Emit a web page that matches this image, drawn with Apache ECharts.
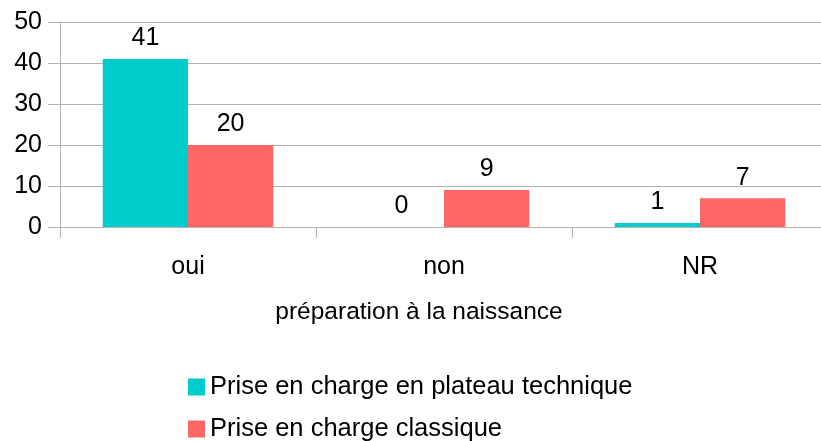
<!DOCTYPE html>
<html>
<head>
<meta charset="utf-8">
<script src="https://cdn.jsdelivr.net/npm/echarts@6/dist/echarts.min.js"></script>
<style>
  html, body { margin: 0; padding: 0; background: #fff; }
  #chart { width: 821px; height: 441px; }
</style>
</head>
<body>
<div id="chart"></div>
<script>
// data
const categories = ['oui', 'non', 'NR']
const plateauValues = [41, 0, 1]
const classiqueValues = [20, 9, 7]
const seriesNames = ['Prise en charge en plateau technique', 'Prise en charge classique']
const axisTitle = 'préparation à la naissance'

const font = 'Liberation Sans, Arial, sans-serif'
const gridColor = '#b3b3b3'

// one legend per row, the way the original stacks them
function legendRow (name, top) {
  return {
    left: 183,
    top: top,
    itemWidth: 17,
    itemHeight: 17,
    itemGap: 0,
    itemTextGap: 7,
    icon: 'rect',
    textStyle: { fontFamily: font, fontSize: 25.5, color: '#000' },
    data: [name]
  }
}

const chart = echarts.init(document.getElementById('chart'))
chart.setOption({
  animation: false,
  textStyle: { fontFamily: font },
  grid: { left: 60, width: 768, top: 22, bottom: 214, containLabel: false, outerBoundsMode: 'none' },
  legend: [
    legendRow(seriesNames[0], 369),
    legendRow(seriesNames[1], 411)
  ],
  xAxis: {
    type: 'category',
    data: categories,
    name: axisTitle,
    nameLocation: 'middle',
    nameGap: 73,
    nameTextStyle: { fontFamily: font, fontSize: 24.5, color: '#000', padding: [0, 50, 0, 0] },
    axisLine: { lineStyle: { color: gridColor } },
    axisTick: { show: true, length: 11, lineStyle: { color: gridColor } },
    axisLabel: { fontFamily: font, fontSize: 25, color: '#000', margin: 28 }
  },
  yAxis: {
    type: 'value',
    min: 0,
    max: 50,
    interval: 10,
    axisLine: { show: true, lineStyle: { color: gridColor } },
    axisTick: { show: true, length: 12, lineStyle: { color: gridColor } },
    axisLabel: { fontFamily: font, fontSize: 25, color: '#000', margin: 18 },
    splitLine: { lineStyle: { color: gridColor } }
  },
  series: [
    {
      name: seriesNames[0],
      type: 'bar',
      data: plateauValues,
      barGap: '0%',
      barCategoryGap: '33.4%',
      itemStyle: { color: '#00cccc' },
      label: { show: true, position: 'top', distance: 8, fontFamily: font, fontSize: 25, color: '#000' }
    },
    {
      name: seriesNames[1],
      type: 'bar',
      data: classiqueValues,
      itemStyle: { color: '#ff6666' },
      label: { show: true, position: 'top', distance: 8, fontFamily: font, fontSize: 25, color: '#000' }
    }
  ]
})
</script>
</body>
</html>
